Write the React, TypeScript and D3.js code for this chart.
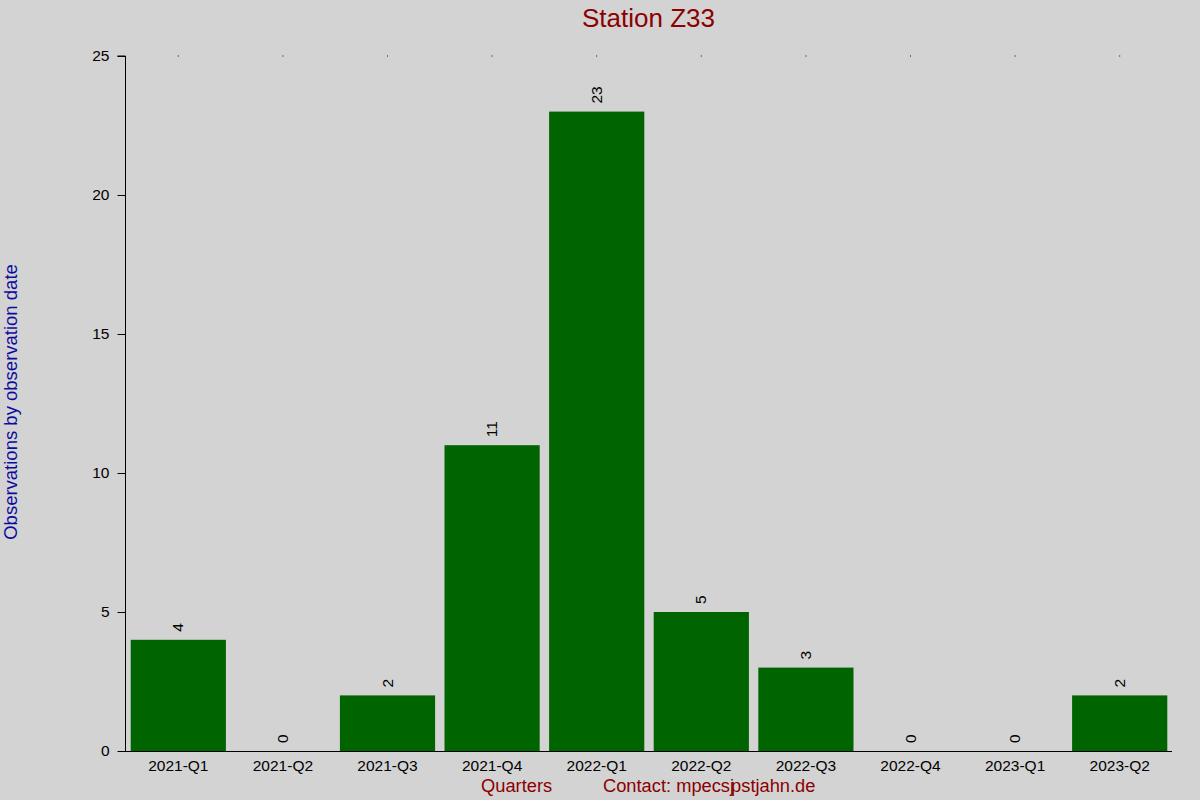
import React, { useRef, useEffect } from 'react';
import * as d3 from 'd3';

const quarters = ['2021-Q1', '2021-Q2', '2021-Q3', '2021-Q4', '2022-Q1', '2022-Q2', '2022-Q3', '2022-Q4', '2023-Q1', '2023-Q2'];
const observations = [4, 0, 2, 11, 23, 5, 3, 0, 0, 2];
const yTicks = [0, 5, 10, 15, 20, 25];

const App: React.FC = () => {
  const ref = useRef<SVGSVGElement | null>(null);

  useEffect(() => {
    if (!ref.current) return;
    const svg = d3.select(ref.current);
    const width = 1200;
    const height = 800;
    const margin = { top: 56, right: 28, bottom: 49, left: 126 };
    const font = 'Liberation Sans, Arial, sans-serif';

    svg.selectAll('*').remove();

    svg.append('rect').attr('width', width).attr('height', height).attr('fill', '#d3d3d3');

    const x = d3.scaleBand<string>()
      .domain(quarters)
      .range([margin.left, width - margin.right])
      .paddingInner(0.09)
      .paddingOuter(0.045);
    const y = d3.scaleLinear().domain([0, 25]).range([height - margin.bottom, margin.top]);

    // bars
    svg.selectAll('.bar')
      .data(observations)
      .enter()
      .append('rect')
      .attr('class', 'bar')
      .attr('x', (d, i) => x(quarters[i])!)
      .attr('y', d => y(d))
      .attr('width', x.bandwidth())
      .attr('height', d => y(0) - y(d))
      .attr('fill', '#006400');

    // value labels, rotated
    svg.selectAll('.val')
      .data(observations)
      .enter()
      .append('text')
      .attr('class', 'val')
      .attr('transform', (d, i) => `translate(${x(quarters[i])! + x.bandwidth() / 2 + 1},${y(d) - 8}) rotate(-90)`)
      .attr('dominant-baseline', 'middle')
      .attr('font-family', font)
      .attr('font-size', 15.5)
      .attr('fill', '#000')
      .text(d => d);

    // y axis
    const yAxis = svg.append('g')
      .attr('transform', `translate(${margin.left - 0.5},0)`)
      .call(d3.axisLeft(y).tickValues(yTicks).tickSize(8).tickPadding(8));
    yAxis.select('.domain').attr('d', `M-8,${y(25)}H0V${y(0)}`);
    yAxis.selectAll('text').attr('font-family', font).attr('font-size', 15.5).attr('fill', '#000');

    // x axis
    const xAxis = svg.append('g')
      .attr('transform', `translate(0,${height - margin.bottom + 0.5})`)
      .call(d3.axisBottom(x).tickSize(0).tickPadding(8));
    xAxis.select('.domain').attr('d', `M${margin.left - 8},0H${width - margin.right}`);
    xAxis.selectAll('text').attr('font-family', font).attr('font-size', 15.5).attr('fill', '#000');

    // small dots along the top
    svg.selectAll('.dot')
      .data(quarters)
      .enter()
      .append('rect')
      .attr('x', d => x(d)! + x.bandwidth() / 2 - 0.5)
      .attr('y', margin.top - 0.5)
      .attr('width', 1)
      .attr('height', 1)
      .attr('fill', '#000');

    svg.append('text')
      .attr('x', 648.5)
      .attr('y', 27)
      .attr('text-anchor', 'middle')
      .attr('font-family', font)
      .attr('font-size', 26)
      .attr('fill', '#8b0000')
      .text('Station Z33');

    svg.append('text')
      .attr('transform', `translate(17,402) rotate(-90)`)
      .attr('text-anchor', 'middle')
      .attr('font-family', font)
      .attr('font-size', 18.5)
      .attr('fill', '#0b0ba0')
      .text('Observations by observation date');

    svg.append('text')
      .attr('x', 481)
      .attr('y', 792)
      .attr('font-family', font)
      .attr('font-size', 18.3)
      .attr('fill', '#8b0000')
      .text('Quarters');

    const contact = svg.append('text')
      .attr('x', 603)
      .attr('y', 792)
      .attr('font-family', font)
      .attr('font-size', 18.3)
      .attr('fill', '#8b0000');
    contact.append('tspan').text('Contact: mpecsj');
    contact.append('tspan').attr('dx', -3).text('pstjahn.de');
  }, []);

  return (
    <div style={{ position: 'absolute', left: 0, top: 0 }}>
      <svg ref={ref} width={1200} height={800} style={{ display: 'block' }}></svg>
    </div>
  );
};

export default App;
